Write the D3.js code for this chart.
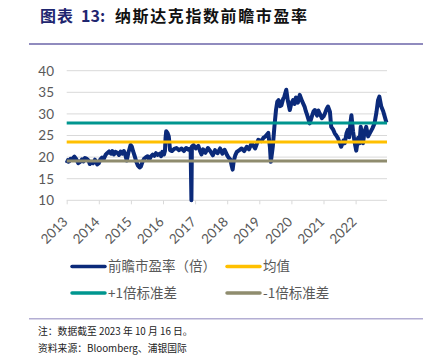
<!DOCTYPE html>
<html><head><meta charset="utf-8">
<script src="https://cdn.jsdelivr.net/npm/d3@7"></script>
<style>
html,body{margin:0;padding:0;background:#fff;}
svg{display:block;}
</style></head>
<body>
<script>
// ---- data ----
const yearTicks = [2013,2014,2015,2016,2017,2018,2019,2020,2021,2022];
const yTicks = [10,15,20,25,30,35,40];
const peDates = [
2013.00,2013.04,2013.08,2013.12,2013.16,2013.20,2013.24,2013.28,2013.32,2013.36,2013.42,2013.48,2013.52,2013.57,2013.62,2013.68,2013.72,2013.77,2013.82,2013.88,2013.95,
2014.00,2014.05,2014.10,2014.15,2014.21,2014.26,2014.32,2014.38,2014.42,2014.47,2014.52,2014.58,2014.63,2014.68,2014.73,2014.78,2014.83,2014.87,2014.92,2014.96,2014.99,
2015.03,2015.07,2015.12,2015.17,2015.22,2015.27,2015.31,2015.36,2015.41,2015.46,2015.52,2015.57,2015.62,2015.68,2015.73,2015.78,2015.84,2015.90,2015.94,2015.98,
2016.03,2016.06,2016.08,2016.10,2016.14,2016.18,2016.22,2016.28,2016.35,2016.42,2016.50,2016.58,2016.65,2016.72,2016.80,2016.86,2016.885,2016.90,2016.95,
2017.02,2017.10,2017.15,2017.20,2017.25,2017.32,2017.40,2017.48,2017.55,2017.62,2017.70,2017.78,2017.85,2017.92,
2018.00,2018.05,2018.10,2018.14,2018.17,2018.20,2018.25,2018.30,2018.38,2018.45,2018.53,2018.61,2018.68,2018.76,2018.82,2018.87,2018.97,
2019.07,2019.13,2019.18,2019.28,2019.33,2019.36,2019.42,2019.47,2019.52,2019.56,2019.60,2019.65,2019.69,2019.74,2019.78,2019.84,2019.89,2019.95,
2020.00,2020.05,2020.10,2020.14,2020.20,2020.26,2020.33,2020.41,2020.45,2020.48,2020.53,2020.57,2020.64,2020.69,2020.73,2020.80,2020.84,2020.88,2020.95,
2021.00,2021.04,2021.10,2021.14,2021.20,2021.24,2021.30,2021.35,2021.40,2021.45,2021.50,2021.55,2021.62,2021.66,2021.72,2021.76,2021.80,2021.84,2021.87,2021.92,2021.97,
2022.02,2022.08,2022.12,2022.16,2022.20,2022.23,2022.28,2022.33,2022.39,2022.44,2022.52,2022.59,2022.65,2022.70,2022.74,2022.80,2022.86,2022.91,2022.96
];
const peValues = [
18.6,19.3,19.0,19.6,19.4,19.8,20.1,19.7,19.2,18.6,18.9,19.5,19.0,19.8,19.6,19.2,18.4,18.9,18.6,19.4,18.3,
18.6,19.5,19.9,19.5,20.5,20.9,21.3,20.8,21.4,20.6,21.2,21.0,20.5,21.3,20.8,21.4,20.4,19.2,21.0,22.0,22.8,
22.4,21.3,20.2,18.9,18.0,17.6,17.8,18.9,19.6,19.9,20.2,19.4,20.1,20.6,20.3,20.9,20.5,20.8,20.2,21.2,
20.6,21.4,24.5,26.0,25.6,24.8,21.6,21.4,21.9,22.1,21.6,22.0,21.4,22.1,21.7,22.0,10.0,22.4,22.8,
22.0,22.6,21.5,20.6,21.8,21.0,22.1,21.3,20.4,21.6,20.9,22.0,20.8,21.7,
20.4,19.8,19.4,18.0,17.1,18.9,20.4,21.2,21.6,22.0,21.4,22.4,21.8,23.2,22.6,22.0,24.0,
23.7,24.5,24.7,25.6,22.4,18.9,22.4,27.0,30.9,32.8,33.2,31.8,32.0,33.4,34.0,35.6,33.0,30.9,
32.5,33.2,32.3,33.8,32.6,34.4,33.0,31.7,30.6,30.0,28.8,27.8,29.5,30.6,30.9,29.6,30.8,30.1,29.0,
29.4,30.0,31.2,31.7,30.5,27.0,26.4,25.5,25.0,24.4,23.4,22.4,23.8,23.2,25.6,26.3,24.6,28.0,29.7,26.0,23.4,
21.5,24.5,23.2,27.0,24.8,23.2,26.0,27.0,24.8,25.5,26.6,27.8,30.4,33.2,34.0,31.7,30.6,29.3,28.0
];
const meanValue = 23.5;
const plusSd = 27.9;
const minusSd = 19.1;
const legendLabels = ["前瞻市盈率（倍）","均值","+1倍标准差","-1倍标准差"];
const colors = ["#0b2a7a","#ffc000","#00968f","#8f8c6e"];

// ---- drawing ----
const W = 423, H = 355;
const svg = d3.select("body").append("svg").attr("width", W).attr("height", H);

// title
const tf = "'Noto Sans CJK SC', sans-serif";
const title = svg.append("text").attr("y", 22)
  .attr("font-family", tf).attr("font-size", 16).attr("font-weight", "bold");
title.append("tspan").attr("x", 40).attr("fill", "#1f2670").attr("letter-spacing", 1).text("图表");
title.append("tspan").attr("x", 81).attr("fill", "#1f2670").text("13:");
title.append("tspan").attr("x", 115).attr("fill", "#111").attr("letter-spacing", 1.6).text("纳斯达克指数前瞻市盈率");
svg.append("line").attr("x1", 29).attr("x2", W).attr("y1", 44).attr("y2", 44)
  .attr("stroke", "#6b64a8").attr("stroke-width", 1.3);

const x = d3.scaleLinear().domain([2013, 2023]).range([66.7, 387.7]);
const y = d3.scaleLinear().domain([10, 40]).range([200.3, 70.7]);
const xEnd = 387;

// grid
svg.append("g").selectAll("line").data(yTicks.filter(d => d > 10)).join("line")
  .attr("x1", x(2013)).attr("x2", xEnd).attr("y1", d => y(d)).attr("y2", d => y(d))
  .attr("stroke", "#d9d9d9").attr("stroke-width", 1);

// y axis labels
const yAxis = d3.axisLeft(y).tickValues(yTicks).tickSize(0).tickPadding(0);
const gy = svg.append("g").attr("transform", `translate(54,0)`).call(yAxis);
gy.select(".domain").remove();
gy.selectAll("text").attr("font-family", "Lato, 'Open Sans', sans-serif").attr("font-size", 13.5)
  .attr("fill", "#595959");

// x axis
const xAxis = d3.axisBottom(x).tickValues(yearTicks).tickSize(4).tickFormat(d3.format("d"));
const gx = svg.append("g").attr("transform", `translate(0,${y(10)})`).call(xAxis);
gx.select(".domain").attr("d", `M${x(2013)},0H${xEnd}`).attr("stroke", "#d9d9d9");
gx.selectAll(".tick line").attr("stroke", "#d9d9d9");
gx.selectAll("text").attr("font-family", "Lato, 'Open Sans', sans-serif").attr("font-size", 13.5)
  .attr("fill", "#595959").attr("text-anchor", "end")
  .attr("x", 0).attr("y", 0).attr("dy", "0.35em")
  .attr("transform", "translate(-2,19) rotate(-45)");

// PE line
const pe = peDates.map((d, i) => [d, peValues[i]]);
svg.append("path").datum(pe)
  .attr("d", d3.line().x(d => x(d[0])).y(d => y(d[1])))
  .attr("fill", "none").attr("stroke", colors[0]).attr("stroke-width", 4)
  .attr("stroke-linejoin", "round");

// reference lines
[[meanValue, colors[1]], [plusSd, colors[2]], [minusSd, colors[3]]].forEach(([v, c]) => {
  svg.append("line").attr("x1", x(2013)).attr("x2", xEnd).attr("y1", y(v)).attr("y2", y(v))
    .attr("stroke", c).attr("stroke-width", 3);
});

// legend
const legPos = [[72, 266.5], [227, 266.5], [72, 293], [227, 293]];
legendLabels.forEach((lab, i) => {
  const [lx, ly] = legPos[i];
  svg.append("line").attr("x1", lx).attr("x2", lx + 33).attr("y1", ly).attr("y2", ly)
    .attr("stroke", colors[i]).attr("stroke-width", 3.5).attr("stroke-linecap", "round");
  svg.append("text").attr("x", lx + 36).attr("y", ly).attr("dy", "0.36em")
    .attr("font-family", tf).attr("font-size", 13.5)
    .attr("fill", "#595959").text(lab);
});

// footer
svg.append("line").attr("x1", 29).attr("x2", W).attr("y1", 318.7).attr("y2", 318.7)
  .attr("stroke", "#b3aed3").attr("stroke-width", 1.5);
svg.append("text").attr("x", 38).attr("y", 335).attr("font-family", tf)
  .attr("font-size", 9.8).attr("fill", "#222").text("注：数据截至 2023 年 10 月 16 日。");
svg.append("text").attr("x", 38).attr("y", 352).attr("font-family", tf)
  .attr("font-size", 9.8).attr("fill", "#222").text("资料来源：Bloomberg、浦银国际");
</script>
</body></html>
